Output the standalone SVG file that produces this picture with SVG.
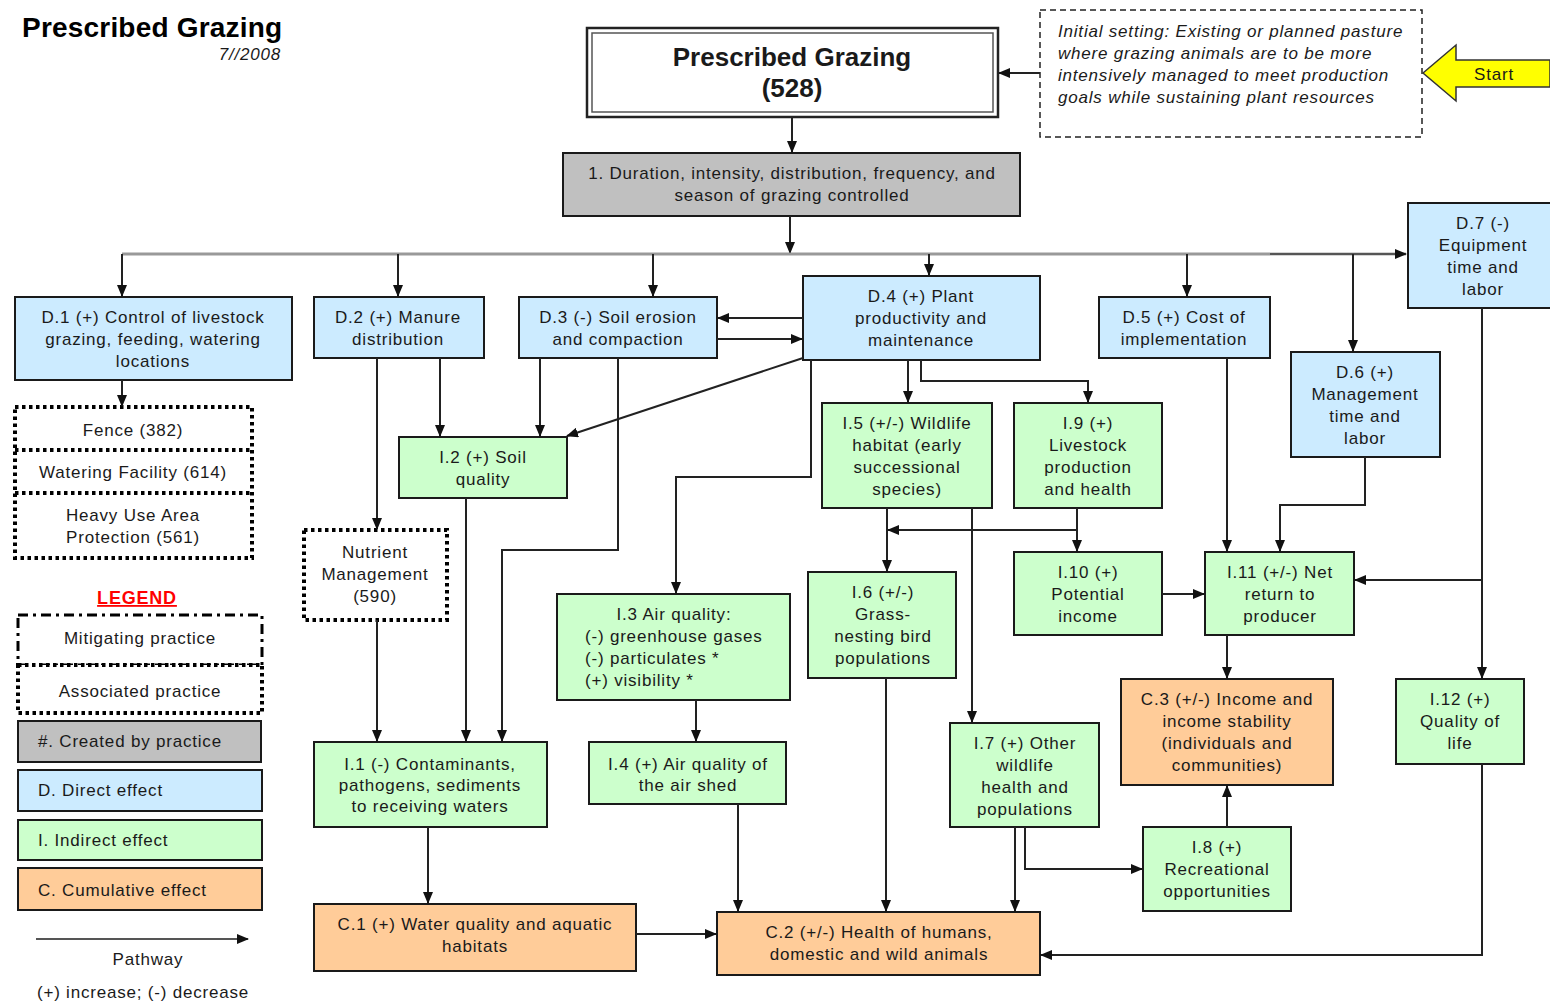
<svg xmlns="http://www.w3.org/2000/svg" width="1550" height="1005" viewBox="0 0 1550 1005">
<defs>
<marker id="ah" markerWidth="12" markerHeight="10" refX="11" refY="5" orient="auto" markerUnits="userSpaceOnUse">
<path d="M0,0 L12,5 L0,10 Z" fill="#111"/>
</marker>
<style>
text{font-family:"Liberation Sans",Arial,sans-serif;fill:#1a1a1a;font-size:17px;letter-spacing:0.8px}
.c{text-anchor:middle}
.box{stroke:#1a1a1a;stroke-width:2}
.blue{fill:#CCEBFF}
.green{fill:#CCFFCC}
.orange{fill:#FFCC99}
.gray{fill:#C0C0C0}
.dot{fill:#fff;stroke:#000;stroke-width:4;stroke-dasharray:3.5 3.5}
.ln{fill:none;stroke:#222;stroke-width:2;marker-end:url(#ah)}
.bus{fill:none;stroke:#999;stroke-width:3}
.it{font-style:italic}
</style>
</defs>

<g id="title">
<text x="22" y="37" style="font-size:28px;font-weight:bold;fill:#000;letter-spacing:0.2px">Prescribed Grazing</text>
<text x="281" y="60" class="it" style="text-anchor:end">7//2008</text>
</g>

<g id="main">
<rect x="587" y="28" width="411" height="89" fill="#fff" stroke="#222" stroke-width="2.5"/>
<rect x="592" y="33" width="401" height="79" fill="none" stroke="#555" stroke-width="1.5"/>
<text x="792" y="66" class="c" style="font-size:26px;font-weight:bold;letter-spacing:0">Prescribed Grazing</text>
<text x="792" y="97" class="c" style="font-size:26px;font-weight:bold;letter-spacing:0">(528)</text>
</g>

<g id="initial">
<rect x="1040" y="10" width="382" height="127" fill="#fff" stroke="#222" stroke-width="1.5" stroke-dasharray="6 4"/>
<text x="1058" y="37" class="it">Initial setting: Existing or planned pasture</text>
<text x="1058" y="59" class="it">where grazing animals are to be more</text>
<text x="1058" y="81" class="it">intensively managed to meet production</text>
<text x="1058" y="103" class="it">goals while sustaining plant resources</text>
</g>

<g id="start">
<polygon points="1423,73 1456,45 1456,60 1550,60 1550,87 1456,87 1456,101" fill="#FFFF00" stroke="#333" stroke-width="1.5"/>
<text x="1494" y="80" class="c">Start</text>
</g>

<g id="n1">
<rect x="563" y="153" width="457" height="63" class="box gray"/>
<text x="792" y="179" class="c">1. Duration, intensity, distribution, frequency, and</text>
<text x="792" y="201" class="c">season of grazing controlled</text>
</g>

<g id="D1">
<rect x="15" y="297" width="277" height="83" class="box blue"/>
<text x="153" y="323" class="c">D.1 (+) Control of livestock</text>
<text x="153" y="345" class="c">grazing, feeding, watering</text>
<text x="153" y="367" class="c">locations</text>
</g>
<g id="practices">
<rect x="15" y="407" width="237" height="151" class="dot"/>
<line x1="15" y1="450" x2="252" y2="450" class="dot"/>
<line x1="15" y1="493" x2="252" y2="493" class="dot"/>
<text x="133" y="436" class="c">Fence (382)</text>
<text x="133" y="478" class="c">Watering Facility (614)</text>
<text x="133" y="521" class="c">Heavy Use Area</text>
<text x="133" y="543" class="c">Protection (561)</text>
</g>
<g id="D2">
<rect x="314" y="297" width="170" height="61" class="box blue"/>
<text x="398" y="323" class="c">D.2 (+) Manure</text>
<text x="398" y="345" class="c">distribution</text>
</g>
<g id="D3">
<rect x="519" y="297" width="198" height="61" class="box blue"/>
<text x="618" y="323" class="c">D.3 (-) Soil erosion</text>
<text x="618" y="345" class="c">and compaction</text>
</g>
<g id="D4">
<rect x="803" y="276" width="237" height="84" class="box blue"/>
<text x="921" y="302" class="c">D.4 (+) Plant</text>
<text x="921" y="324" class="c">productivity and</text>
<text x="921" y="346" class="c">maintenance</text>
</g>
<g id="D5">
<rect x="1099" y="297" width="171" height="61" class="box blue"/>
<text x="1184" y="323" class="c">D.5 (+) Cost of</text>
<text x="1184" y="345" class="c">implementation</text>
</g>
<g id="D6">
<rect x="1291" y="352" width="149" height="105" class="box blue"/>
<text x="1365" y="378" class="c">D.6 (+)</text>
<text x="1365" y="400" class="c">Management</text>
<text x="1365" y="422" class="c">time and</text>
<text x="1365" y="444" class="c">labor</text>
</g>
<g id="D7">
<rect x="1408" y="203" width="150" height="105" class="box blue"/>
<text x="1483" y="229" class="c">D.7 (-)</text>
<text x="1483" y="251" class="c">Equipment</text>
<text x="1483" y="273" class="c">time and</text>
<text x="1483" y="295" class="c">labor</text>
</g>

<g id="NM">
<rect x="304" y="530" width="143" height="90" class="dot"/>
<text x="375" y="558" class="c">Nutrient</text>
<text x="375" y="580" class="c">Management</text>
<text x="375" y="602" class="c">(590)</text>
</g>
<g id="I2">
<rect x="399" y="437" width="168" height="61" class="box green"/>
<text x="483" y="463" class="c">I.2 (+) Soil</text>
<text x="483" y="485" class="c">quality</text>
</g>
<g id="I1">
<rect x="314" y="742" width="233" height="85" class="box green"/>
<text x="430" y="770" class="c">I.1 (-) Contaminants,</text>
<text x="430" y="791" class="c">pathogens, sediments</text>
<text x="430" y="812" class="c">to receiving waters</text>
</g>
<g id="I3">
<rect x="557" y="594" width="233" height="106" class="box green"/>
<text x="674" y="620" class="c">I.3 Air quality:</text>
<text x="585" y="642">(-) greenhouse gases</text>
<text x="585" y="664">(-) particulates *</text>
<text x="585" y="686">(+) visibility *</text>
</g>
<g id="I4">
<rect x="589" y="742" width="197" height="62" class="box green"/>
<text x="688" y="770" class="c">I.4 (+) Air quality of</text>
<text x="688" y="791" class="c">the air shed</text>
</g>
<g id="I5">
<rect x="822" y="403" width="170" height="105" class="box green"/>
<text x="907" y="429" class="c">I.5 (+/-) Wildlife</text>
<text x="907" y="451" class="c">habitat (early</text>
<text x="907" y="473" class="c">successional</text>
<text x="907" y="495" class="c">species)</text>
</g>
<g id="I9">
<rect x="1014" y="403" width="148" height="105" class="box green"/>
<text x="1088" y="429" class="c">I.9 (+)</text>
<text x="1088" y="451" class="c">Livestock</text>
<text x="1088" y="473" class="c">production</text>
<text x="1088" y="495" class="c">and health</text>
</g>
<g id="I6">
<rect x="808" y="572" width="148" height="106" class="box green"/>
<text x="883" y="598" class="c">I.6 (+/-)</text>
<text x="883" y="620" class="c">Grass-</text>
<text x="883" y="642" class="c">nesting bird</text>
<text x="883" y="664" class="c">populations</text>
</g>
<g id="I10">
<rect x="1014" y="552" width="148" height="83" class="box green"/>
<text x="1088" y="578" class="c">I.10 (+)</text>
<text x="1088" y="600" class="c">Potential</text>
<text x="1088" y="622" class="c">income</text>
</g>
<g id="I11">
<rect x="1205" y="552" width="149" height="83" class="box green"/>
<text x="1280" y="578" class="c">I.11 (+/-) Net</text>
<text x="1280" y="600" class="c">return to</text>
<text x="1280" y="622" class="c">producer</text>
</g>
<g id="I7">
<rect x="950" y="723" width="149" height="104" class="box green"/>
<text x="1025" y="749" class="c">I.7 (+) Other</text>
<text x="1025" y="771" class="c">wildlife</text>
<text x="1025" y="793" class="c">health and</text>
<text x="1025" y="815" class="c">populations</text>
</g>
<g id="I8">
<rect x="1143" y="827" width="148" height="84" class="box green"/>
<text x="1217" y="853" class="c">I.8 (+)</text>
<text x="1217" y="875" class="c">Recreational</text>
<text x="1217" y="897" class="c">opportunities</text>
</g>
<g id="I12">
<rect x="1396" y="679" width="128" height="85" class="box green"/>
<text x="1460" y="705" class="c">I.12 (+)</text>
<text x="1460" y="727" class="c">Quality of</text>
<text x="1460" y="749" class="c">life</text>
</g>
<g id="C3">
<rect x="1121" y="679" width="212" height="106" class="box orange"/>
<text x="1227" y="705" class="c">C.3 (+/-) Income and</text>
<text x="1227" y="727" class="c">income stability</text>
<text x="1227" y="749" class="c">(individuals and</text>
<text x="1227" y="771" class="c">communities)</text>
</g>
<g id="C1">
<rect x="314" y="904" width="322" height="67" class="box orange"/>
<text x="475" y="930" class="c">C.1 (+) Water quality and aquatic</text>
<text x="475" y="952" class="c">habitats</text>
</g>
<g id="C2">
<rect x="717" y="912" width="323" height="63" class="box orange"/>
<text x="879" y="938" class="c">C.2 (+/-) Health of humans,</text>
<text x="879" y="960" class="c">domestic and wild animals</text>
</g>

<g id="connectors">
<line x1="1040" y1="73" x2="999" y2="73" class="ln"/>
<line x1="792" y1="117" x2="792" y2="152" class="ln"/>
<line x1="790" y1="216" x2="790" y2="253" class="ln"/>
<line x1="122" y1="254" x2="1270" y2="254" class="bus"/>
<line x1="1270" y1="254" x2="1406" y2="254" class="ln" style="stroke:#555;stroke-width:2.5"/>
<line x1="122" y1="254" x2="122" y2="296" class="ln"/>
<line x1="398" y1="254" x2="398" y2="296" class="ln"/>
<line x1="653" y1="254" x2="653" y2="296" class="ln"/>
<line x1="929" y1="254" x2="929" y2="275" class="ln"/>
<line x1="1187" y1="254" x2="1187" y2="296" class="ln"/>
<line x1="1353" y1="254" x2="1353" y2="351" class="ln"/>
<line x1="803" y1="318" x2="718" y2="318" class="ln"/>
<line x1="717" y1="339" x2="802" y2="339" class="ln"/>
<line x1="122" y1="380" x2="122" y2="406" class="ln"/>
<line x1="377" y1="358" x2="377" y2="529" class="ln"/>
<line x1="440" y1="358" x2="440" y2="436" class="ln"/>
<line x1="540" y1="358" x2="540" y2="436" class="ln"/>
<line x1="803" y1="358" x2="567" y2="436" class="ln"/>
<polyline points="618,358 618,550 502,550 502,741" class="ln"/>
<line x1="377" y1="620" x2="377" y2="741" class="ln"/>
<line x1="466" y1="498" x2="466" y2="741" class="ln"/>
<polyline points="811,360 811,477 676,477 676,593" class="ln"/>
<line x1="696" y1="700" x2="696" y2="741" class="ln"/>
<line x1="738" y1="804" x2="738" y2="911" class="ln"/>
<line x1="428" y1="827" x2="428" y2="903" class="ln"/>
<line x1="636" y1="934" x2="716" y2="934" class="ln"/>
<line x1="908" y1="360" x2="908" y2="402" class="ln"/>
<polyline points="921,360 921,381 1088,381 1088,402" class="ln"/>
<line x1="887" y1="508" x2="887" y2="571" class="ln"/>
<line x1="1077" y1="530" x2="888" y2="530" class="ln"/>
<line x1="1077" y1="508" x2="1077" y2="551" class="ln"/>
<line x1="972" y1="508" x2="972" y2="722" class="ln"/>
<line x1="886" y1="678" x2="886" y2="911" class="ln"/>
<line x1="1162" y1="594" x2="1204" y2="594" class="ln"/>
<line x1="1227" y1="358" x2="1227" y2="551" class="ln"/>
<polyline points="1365,457 1365,505 1280,505 1280,551" class="ln"/>
<line x1="1482" y1="308" x2="1482" y2="678" class="ln"/>
<line x1="1482" y1="580" x2="1355" y2="580" class="ln"/>
<polyline points="1482,764 1482,955 1041,955" class="ln"/>
<line x1="1227" y1="635" x2="1227" y2="678" class="ln"/>
<line x1="1227" y1="827" x2="1227" y2="786" class="ln"/>
<line x1="1015" y1="827" x2="1015" y2="911" class="ln"/>
<polyline points="1025,827 1025,869 1142,869" class="ln"/>
</g>

<g id="legend">
<text x="137" y="604" class="c" style="font-size:18px;font-weight:bold;fill:#FF0000;text-decoration:underline">LEGEND</text>
<rect x="18" y="615" width="244" height="50" fill="#fff" stroke="#000" stroke-width="3" stroke-dasharray="10 5 3 5"/>
<text x="140" y="644" class="c">Mitigating practice</text>
<rect x="18" y="665" width="244" height="48" class="dot"/>
<text x="140" y="697" class="c">Associated practice</text>
<rect x="18" y="721" width="243" height="41" class="box gray"/>
<text x="38" y="747">#.  Created by practice</text>
<rect x="18" y="770" width="244" height="41" class="box blue"/>
<text x="38" y="796">D.  Direct effect</text>
<rect x="18" y="820" width="244" height="40" class="box green"/>
<text x="38" y="846">I.  Indirect effect</text>
<rect x="18" y="868" width="244" height="42" class="box orange"/>
<text x="38" y="896">C.  Cumulative effect</text>
<line x1="36" y1="939" x2="248" y2="939" class="ln" style="stroke:#555"/>
<text x="148" y="965" class="c">Pathway</text>
<text x="143" y="998" class="c">(+) increase; (-) decrease</text>
</g>
</svg>
